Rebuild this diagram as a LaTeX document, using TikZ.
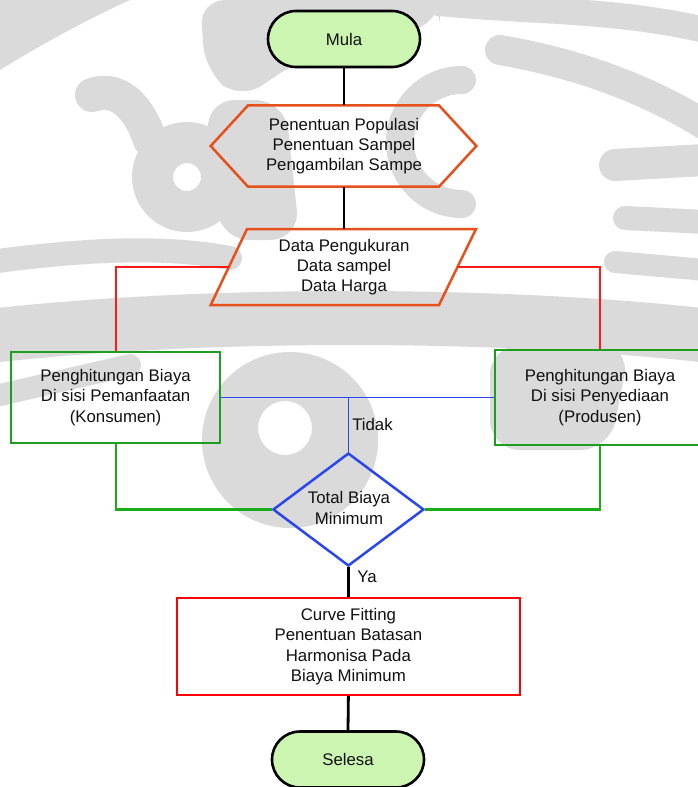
\documentclass[tikz,border=0pt]{standalone}
\usepackage{fontspec}
\setmainfont{Liberation Sans}
\usetikzlibrary{shapes.geometric,calc}

\definecolor{termfill}{HTML}{CCF5B2}
\definecolor{ioline}{HTML}{E6501C}
\definecolor{redline}{HTML}{FF1A1A}
\definecolor{greenline}{HTML}{1E9E1E}
\definecolor{blueline}{HTML}{2A46EE}
\definecolor{inkcol}{HTML}{111111}
\definecolor{wmgrey}{HTML}{DADADA}

\begin{document}
\begin{tikzpicture}[x=1pt,y=-1pt,
  txt/.style={align=center,font=\fontsize{16.8}{20.3}\selectfont,text=inkcol,inner sep=0pt},
  terminal/.style={txt,draw=black,line width=2.6pt,fill=termfill,rounded corners=28pt,
    minimum width=152pt,minimum height=56pt},
  greenbox/.style={txt,draw=greenline,line width=2.4pt},
  redbox/.style={txt,draw=red,line width=2.4pt},
  flowline/.style={draw=black,line width=2.8pt},
  redlink/.style={draw=redline,line width=2pt},
  greenlink/.style={draw=greenline!85!green,line width=2.2pt},
  bluelink/.style={draw=blueline,line width=1.4pt},
  ioshape/.style={draw=ioline,line width=2.5pt,line join=miter},
  wm/.style={fill=wmgrey},
  wmline/.style={draw=wmgrey,line cap=round}
]
\useasboundingbox (0,0) rectangle (697,787);
\fill[white] (0,0) rectangle (697,787);

% faint logo watermark behind the chart
\begin{scope}
  % upper left sweeps and curl
  \fill[wm] (0,0) -- (130,0) .. controls (90,18) and (40,45) .. (0,70) -- cycle;
  \fill[wm,rounded corners=25pt] (200,0) -- (440,0) -- (440,22) -- (300,60) -- (240,100)
    -- (205,70) -- cycle;
  \fill[wm,even odd rule] (187,177) circle[radius=55] (187,177) circle[radius=14];
  \draw[wmline,line width=34pt] (92,95) .. controls (120,85) and (140,110) .. (150,140);
  \fill[wm,rounded corners=30pt] (205,100) -- (285,100) -- (300,240) -- (220,240) -- cycle;
  % upper right arc and fingers
  \draw[wmline,line width=28pt] (462,80) arc[start angle=270,end angle=90,radius=62];
  \draw[wmline,line width=26pt] (430,2) .. controls (520,12) and (610,8) .. (705,30);
  \draw[wmline,line width=30pt] (500,50) .. controls (570,62) and (640,85) .. (705,125);
  \draw[wmline,line width=32pt] (615,165) -- (705,160);
  \draw[wmline,line width=24pt] (625,218) -- (705,222);
  \draw[wmline,line width=22pt] (615,262) -- (705,270);
  % middle sweeps
  \draw[wmline,line width=54pt] (-10,336) .. controls (200,312) and (500,312) .. (710,336);
  \draw[wmline,line width=24pt] (-10,262) .. controls (80,250) and (160,245) .. (230,258);
  \draw[wmline,line width=22pt] (0,395) -- (130,365);
  \fill[wm,rounded corners=30pt] (490,345) -- (630,345) -- (610,450) -- (490,450) -- cycle;
  % lower ring
  \fill[wm,even odd rule] (290,440) circle[radius=88] (285,428) circle[radius=27];
\end{scope}

% start terminal
\node[terminal] (mula) at (344,39) {Mula};

% preparation hexagon
\coordinate (hl) at (210.7,146);
\coordinate (htl) at (248,105.4);
\coordinate (htr) at (439,105.4);
\coordinate (hr) at (476.4,146);
\coordinate (hbr) at (439,186.7);
\coordinate (hbl) at (248,186.7);
\draw[ioshape] (hl) -- (htl) -- (htr) -- (hr) -- (hbr) -- (hbl) -- cycle;
\node[txt,minimum width=265pt,minimum height=81.3pt] (hex) at (344,146)
  {Penentuan Populasi\\Penentuan Sampel\\Pengambilan Sampe};

% input/output parallelogram
\coordinate (ptl) at (247,229);
\coordinate (ptr) at (476,229);
\coordinate (pbr) at (439,305);
\coordinate (pbl) at (210.7,305);
\draw[ioshape] (ptl) -- (ptr) -- (pbr) -- (pbl) -- cycle;
\node[txt,minimum width=229pt,minimum height=76pt] (para) at (344,267)
  {Data Pengukuran\\Data sampel\\Data Harga};
\coordinate (pleft) at ($(ptl)!0.5!(pbl)$);
\coordinate (pright) at ($(ptr)!0.5!(pbr)$);

% cost computation boxes
\node[greenbox,minimum width=209pt,minimum height=91pt] (kons) at (115.6,397.5)
  {Penghitungan Biaya\\Di sisi Pemanfaatan\\(Konsumen)};
\node[greenbox,minimum width=210pt,minimum height=95pt] (prod) at (600,397.5)
  {Penghitungan Biaya\\Di sisi Penyediaan\\(Produsen)};

% decision
\node[diamond,draw=blueline,line width=2.5pt,minimum width=151pt,minimum height=113pt,
  inner sep=0pt] (dec) at (348.4,509.5) {};
\node[txt] (dectext) at (349,508) {Total Biaya\\Minimum};

% final process
\node[redbox,fill=white,minimum width=342.6pt,minimum height=97pt] (fit) at (348.4,646.5)
  {Curve Fitting\\Penentuan Batasan\\Harmonisa Pada\\Biaya Minimum};

% end terminal
\node[terminal] (selesai) at (348,759.5) {Selesa};

% connectors
\draw[flowline] (mula.south) -- (hex.north);
\draw[flowline] (hex.south) -- (para.north);
\draw[redlink] (pleft) -| (kons.north);
\draw[redlink] (pright) -| (prod.north);
\draw[bluelink] (kons.east) -- (prod.west);
\coordinate (junction) at (dec.north |- kons.east);
\draw[bluelink] (junction) -- (dec.north);
\draw[greenlink] (kons.south) |- (dec.west);
\draw[greenlink] (prod.south) |- (dec.east);
\draw[flowline] (dec.south) -- (fit.north);
\draw[flowline] (fit.south) -- (selesai.north);

% branch labels
\node[txt] (tidak) at (372.5,424) {Tidak};
\node[txt] (ya) at (367,577) {Ya};
\end{tikzpicture}
\end{document}
